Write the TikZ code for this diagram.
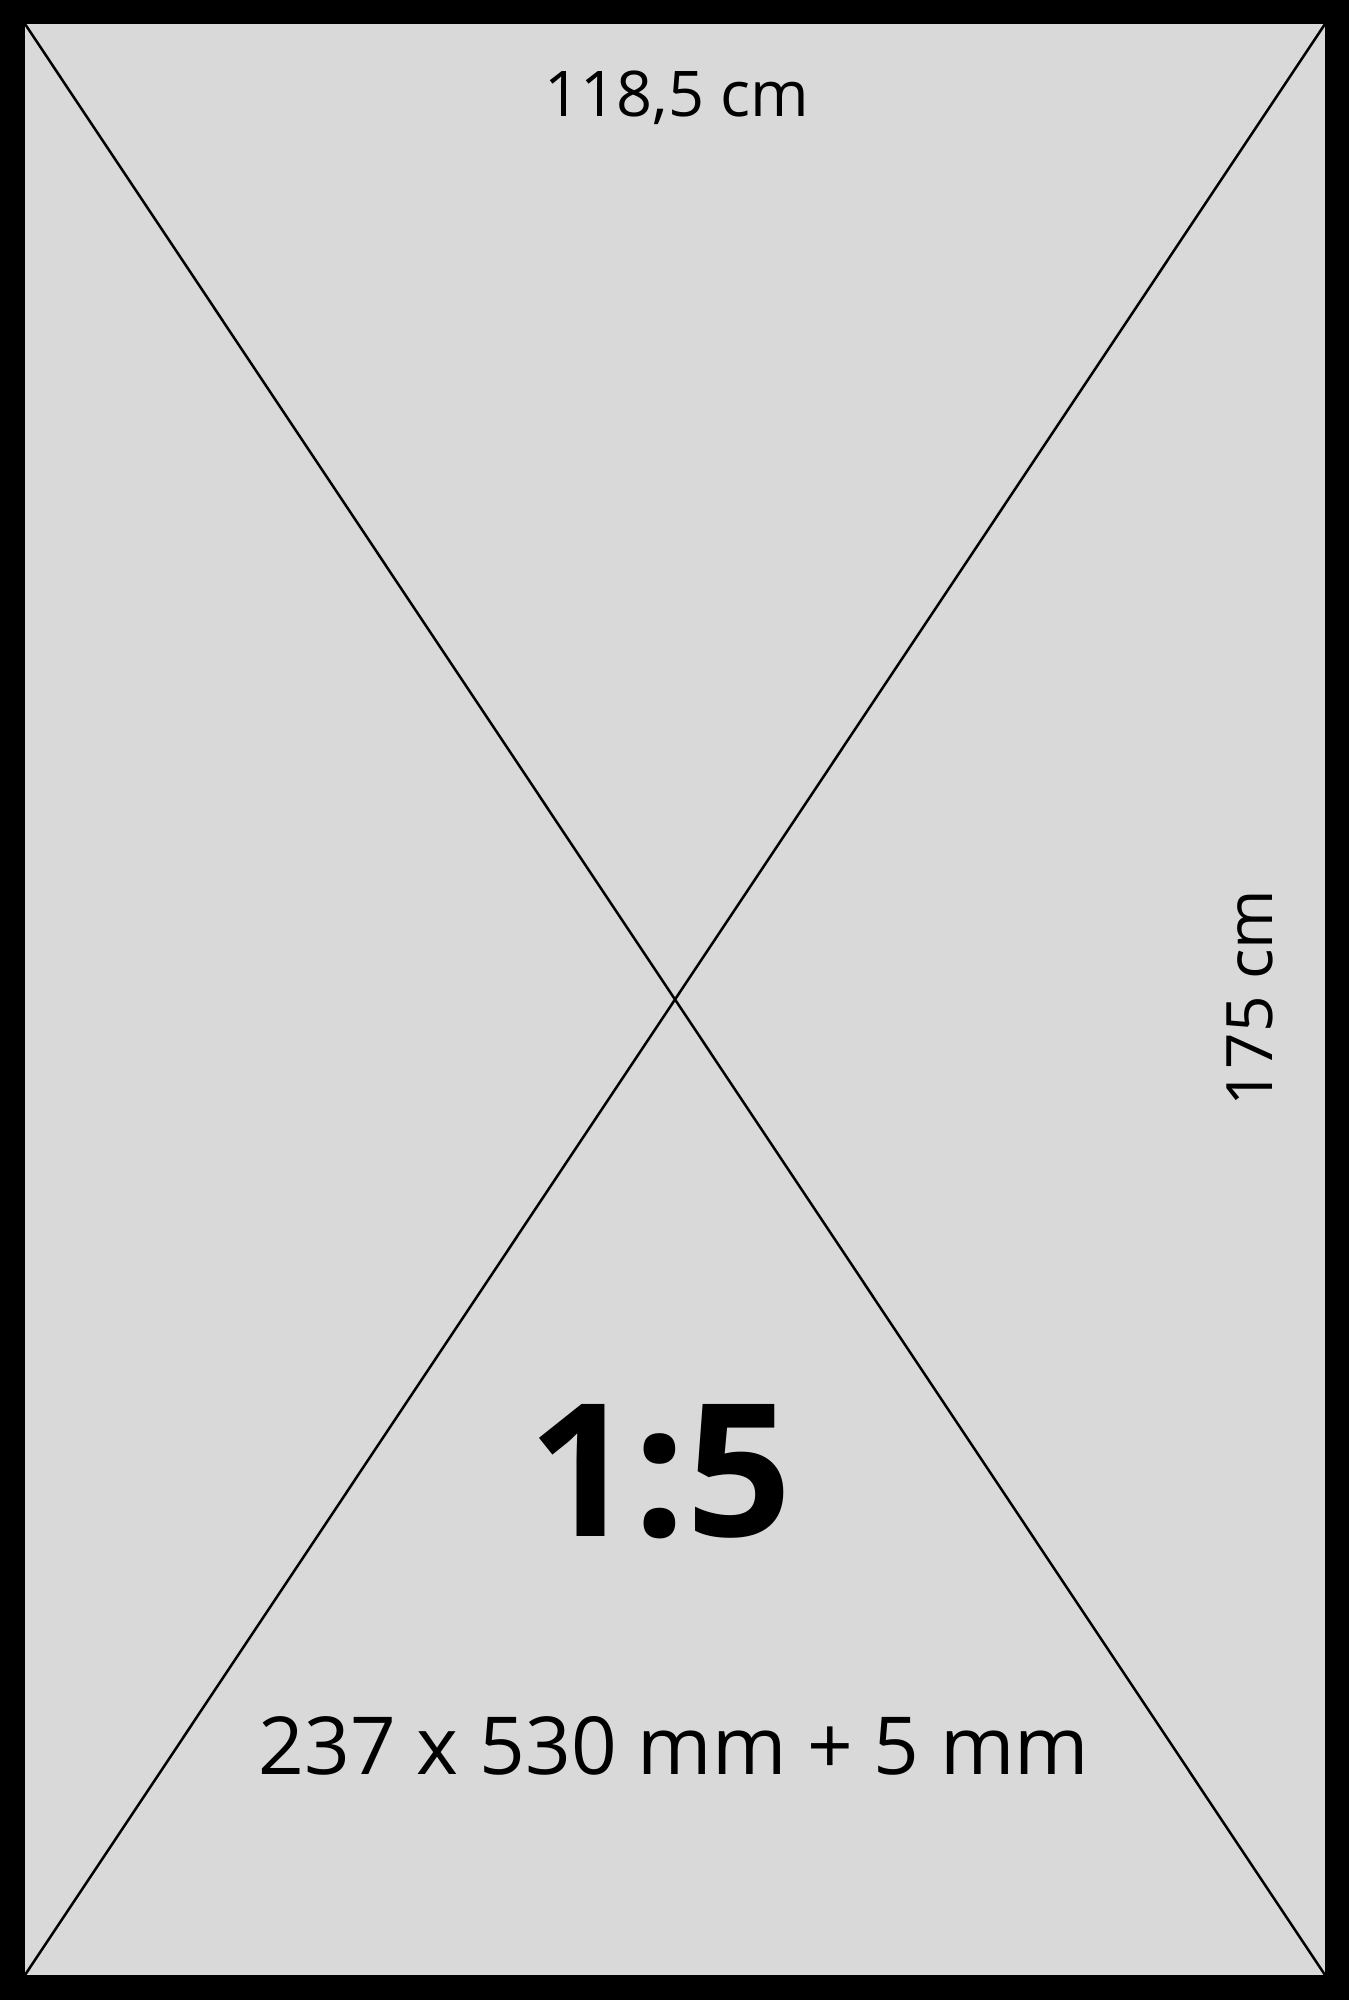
\documentclass[tikz,border=0pt]{standalone}
\usepackage{fontspec}
\setmainfont{Open Sans}
\definecolor{panel}{HTML}{D9D9D9}
\begin{document}
\begin{tikzpicture}[x=1pt,y=1pt,
  diag/.style={line width=2.5pt, line cap=round},
  lbl/.style={inner sep=0pt, anchor=base}]
\useasboundingbox (0,0) rectangle (1349,2000);
\fill[black] (0,0) rectangle (1349,2000);
\fill[panel] (25,25) rectangle (1325,1976);
\coordinate (tl) at (25,1976);
\coordinate (tr) at (1325,1976);
\coordinate (bl) at (25,25);
\coordinate (br) at (1325,25);
\draw[diag] (tl) -- (br);
\draw[diag] (tr) -- (bl);
\node[lbl, font=\fontsize{63}{70}\selectfont] (w) at (677,1883) {118,5 cm};
\node[lbl, rotate=90, font=\fontsize{64}{70}\selectfont] (h) at (1272,1002) {175 cm};
\node[lbl, font=\fontsize{185}{200}\selectfont\bfseries] (s) at (660,463) {1:5};
\node[lbl, font=\fontsize{80}{90}\selectfont] (d) at (674,225) {237 x 530 mm + 5 mm};
\end{tikzpicture}
\end{document}
